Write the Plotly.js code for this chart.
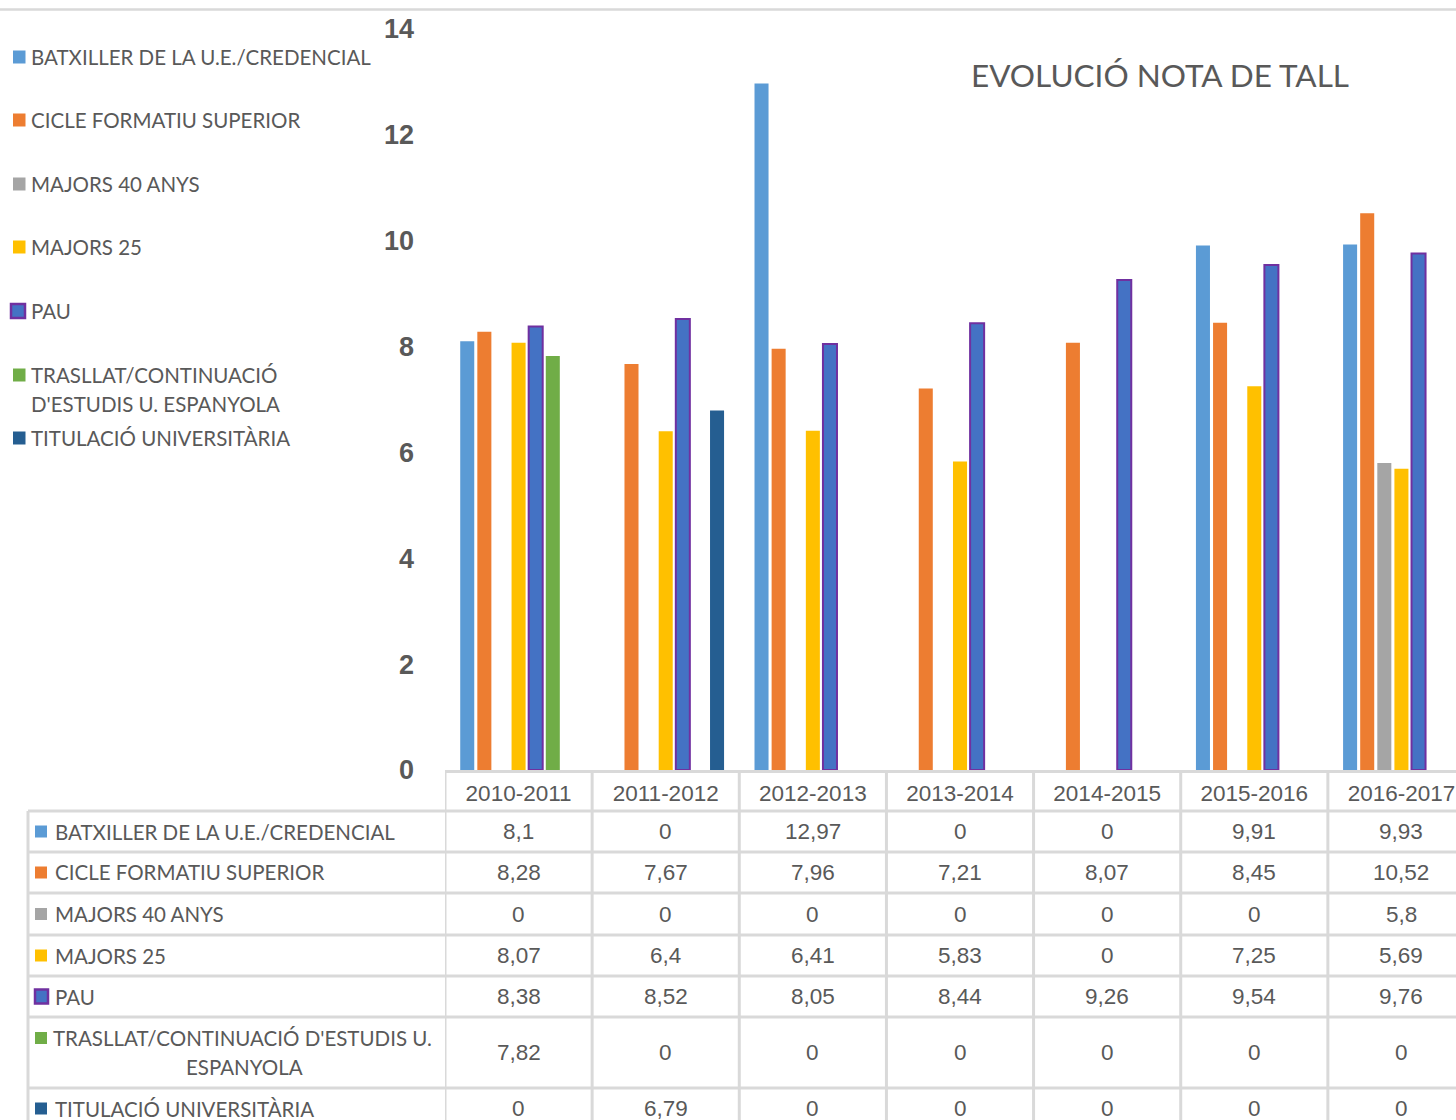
<!DOCTYPE html>
<html>
<head>
<meta charset="utf-8">
<script src="https://cdn.plot.ly/plotly-3.0.1.min.js"></script>
<style>
html,body{margin:0;padding:0;overflow:hidden;background:#fff;}
#chart{width:1480px;height:1120px;}
</style>
</head>
<body>
<div id="chart"></div>
<script>
// ---------- DATA ----------
const categories = ['2010-2011','2011-2012','2012-2013','2013-2014','2014-2015','2015-2016','2016-2017'];
const seriesNames = [
  'BATXILLER DE LA U.E./CREDENCIAL',
  'CICLE FORMATIU SUPERIOR',
  'MAJORS 40 ANYS',
  'MAJORS 25',
  'PAU',
  "TRASLLAT/CONTINUACIÓ D'ESTUDIS U. ESPANYOLA",
  'TITULACIÓ UNIVERSITÀRIA'
];
const batxiller = [8.1, 0, 12.97, 0, 0, 9.91, 9.93];
const cicle     = [8.28, 7.67, 7.96, 7.21, 8.07, 8.45, 10.52];
const majors40  = [0, 0, 0, 0, 0, 0, 5.8];
const majors25  = [8.07, 6.4, 6.41, 5.83, 0, 7.25, 5.69];
const pau       = [8.38, 8.52, 8.05, 8.44, 9.26, 9.54, 9.76];
const trasllat  = [7.82, 0, 0, 0, 0, 0, 0];
const titulacio = [0, 6.79, 0, 0, 0, 0, 0];
const yTicks = [0, 2, 4, 6, 8, 10, 12, 14];
const chartTitle = 'EVOLUCIÓ NOTA DE TALL';

// ---------- STYLE / LAYOUT ----------
const seriesValues = [batxiller, cicle, majors40, majors25, pau, trasllat, titulacio];
const fills   = ['#5B9BD5','#ED7D31','#A5A5A5','#FFC000','#4472C4','#70AD47','#255E91'];
const outline = [null,null,null,null,'#7030A0',null,null];
const textColor = '#595959';
const gridColor = '#D9D9D9';
const labelFont = 'Lato, "Liberation Sans", sans-serif';
const regular = '"Liberation Sans", Arial, sans-serif';
const labelSize = 20.5;

const W = 1480, H = 1120;
const L = 445, R = 1475, T = 29, B = 770;
const px = x => (x - L) / (R - L);
const py = y => (B - y) / (B - T);

const fmt = v => String(v).replace('.', ',');

const traces = seriesValues.map((vals, i) => ({
  type: 'bar',
  name: seriesNames[i],
  x: categories,
  y: vals,
  marker: {
    color: fills[i],
    line: outline[i] ? {color: outline[i], width: 2} : {width: 0}
  },
  hoverinfo: 'x+y+name'
}));

const shapes = [];
const annotations = [];

// top chart-border line
shapes.push({type:'line', xref:'paper', yref:'paper', x0:px(0), x1:px(1480), y0:py(9.5), y1:py(9.5),
  line:{color:gridColor, width:2.5}});

// ---- legend (top-left) ----
const legendY = [57, 120, 184, 247, 311, 375, 438];
seriesNames.forEach((name, i) => {
  const y = legendY[i];
  if (outline[i]) {
    shapes.push({type:'rect', xref:'paper', yref:'paper', x0:px(11), x1:px(25), y0:py(y+7), y1:py(y-7),
      fillcolor:fills[i], line:{color:outline[i], width:2.5}});
  } else {
    shapes.push({type:'rect', xref:'paper', yref:'paper', x0:px(13), x1:px(25.5), y0:py(y+6.5), y1:py(y-6.5),
      fillcolor:fills[i], line:{width:0}});
  }
  let lines = [name];
  if (name.length > 34) { const k = name.indexOf(' '); lines = [name.slice(0,k), name.slice(k+1)]; }
  lines.forEach((ln, j) => {
    annotations.push({xref:'paper', yref:'paper', x:px(28.5), y:py(y + j*29), text:ln, showarrow:false,
      xanchor:'left', yanchor:'middle', font:{family:labelFont, size:labelSize, color:textColor}});
  });
});

// ---- data table ----
const rowLines = [811, 852, 893, 935, 976, 1017, 1088, 1129];
const tableLeft = 28, headerTop = 771, tableBottom = 1135;
rowLines.forEach(y => {
  shapes.push({type:'line', xref:'paper', yref:'paper', x0:px(tableLeft), x1:px(R+3), y0:py(y), y1:py(y),
    line:{color:gridColor, width:3}});
});
shapes.push({type:'line', xref:'paper', yref:'paper', x0:px(tableLeft), x1:px(tableLeft), y0:py(811), y1:py(tableBottom),
  line:{color:gridColor, width:3}});
for (let c = 0; c <= categories.length; c++) {
  shapes.push({type:'line', xref:'x', yref:'paper', x0:c-0.5, x1:c-0.5, y0:py(headerTop), y1:py(tableBottom),
    line:{color:gridColor, width:3}});
}
seriesNames.forEach((name, i) => {
  const yTop = rowLines[i], yBot = rowLines[i+1];
  const yc = (yTop + yBot) / 2;
  const multi = name.length > 34;
  const keyY = multi ? yTop + 21 : yc;
  if (outline[i]) {
    shapes.push({type:'rect', xref:'paper', yref:'paper', x0:px(35), x1:px(48), y0:py(keyY+7), y1:py(keyY-7),
      fillcolor:fills[i], line:{color:outline[i], width:2.5}});
  } else {
    shapes.push({type:'rect', xref:'paper', yref:'paper', x0:px(35), x1:px(47), y0:py(keyY+6), y1:py(keyY-6),
      fillcolor:fills[i], line:{width:0}});
  }
  if (multi) {
    const k = name.lastIndexOf(' ');
    annotations.push({xref:'paper', yref:'paper', x:px(51), y:py(yTop+21), text:name.slice(0,k), showarrow:false,
      xanchor:'left', yanchor:'middle', font:{family:labelFont, size:labelSize, color:textColor}});
    annotations.push({xref:'paper', yref:'paper', x:px(244), y:py(yTop+50), text:name.slice(k+1), showarrow:false,
      xanchor:'center', yanchor:'middle', font:{family:labelFont, size:labelSize, color:textColor}});
  } else {
    annotations.push({xref:'paper', yref:'paper', x:px(53), y:py(yc), text:name, showarrow:false,
      xanchor:'left', yanchor:'middle', font:{family:labelFont, size:labelSize, color:textColor}});
  }
  seriesValues[i].forEach((v, c) => {
    annotations.push({xref:'x', yref:'paper', x:categories[c], y:py(yc), text:fmt(v), showarrow:false,
      xanchor:'center', yanchor:'middle', font:{family:regular, size:22.5, color:textColor}});
  });
});

const layout = {
  width: W, height: H,
  margin: {l: L, r: W - R, t: T, b: H - B, pad: 0},
  paper_bgcolor: '#ffffff',
  plot_bgcolor: '#ffffff',
  showlegend: false,
  barmode: 'group',
  bargap: 0.186,
  bargroupgap: 0.18,
  title: {
    text: chartTitle,
    xref: 'container', yref: 'container',
    x: 1160 / W, y: 1 - 76 / H, xanchor: 'center', yanchor: 'middle',
    font: {family: labelFont, size: 31.5, color: textColor}
  },
  xaxis: {
    type: 'category',
    range: [-0.5, categories.length - 0.5],
    showgrid: false, zeroline: false,
    showline: true, linecolor: gridColor, linewidth: 3,
    ticks: '',
    tickfont: {family: regular, size: 22.5, color: textColor},
    ticklabelstandoff: 1,
    fixedrange: true
  },
  yaxis: {
    range: [0, 14],
    tickvals: yTicks,
    ticktext: yTicks.map(String),
    showgrid: false, zeroline: false, showline: false,
    ticks: '',
    ticklabelstandoff: 30,
    tickfont: {family: regular, size: 27, color: textColor, weight: 'bold'},
    fixedrange: true
  },
  shapes: shapes,
  annotations: annotations
};

Plotly.newPlot('chart', traces, layout, {displayModeBar: false, staticPlot: true});
</script>
</body>
</html>
